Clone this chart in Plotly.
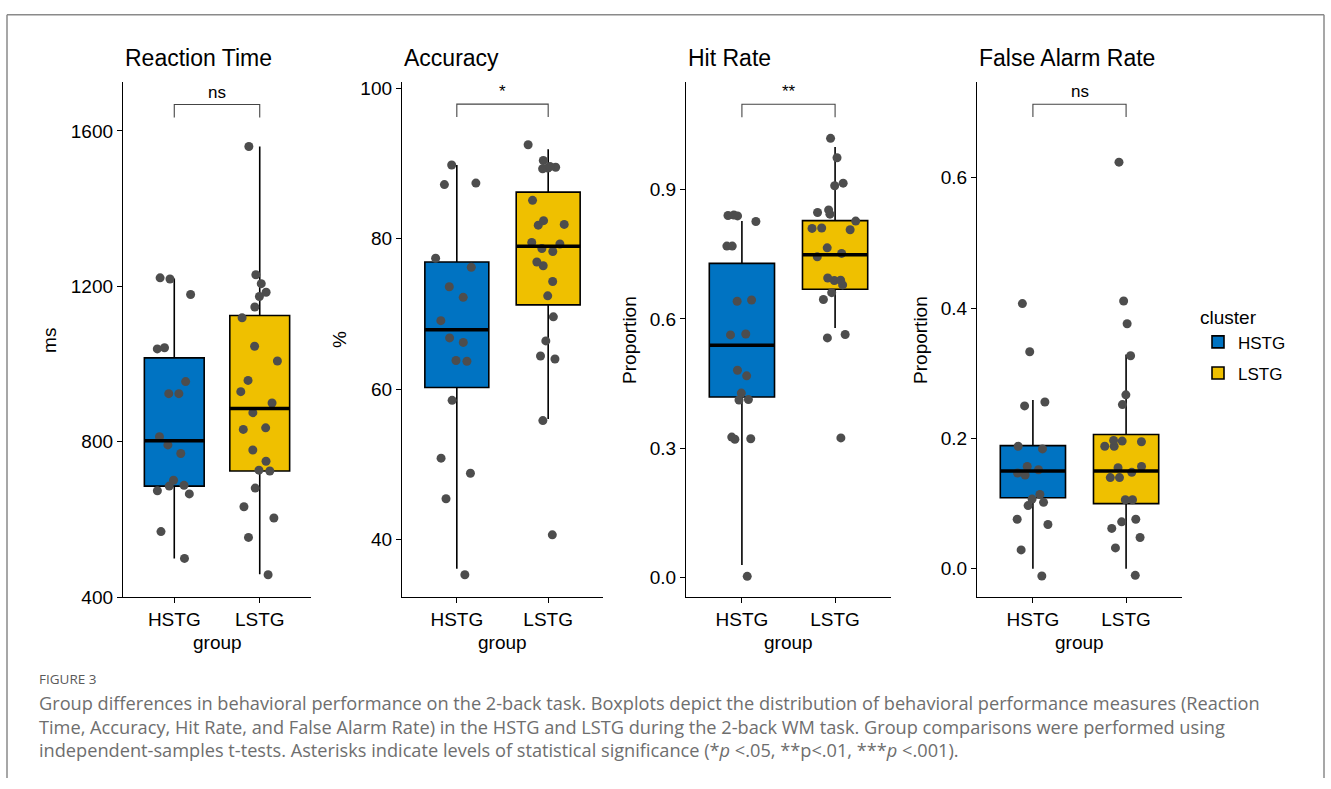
import plotly.graph_objects as go

W, H = 1331, 789
groups = ["HSTG", "LSTG"]
group_colors = ["#0073C2", "#EFC000"]

# ---------------- data ----------------
titles = ["Reaction Time", "Accuracy", "Hit Rate", "False Alarm Rate"]
y_labels = ["ms", "%", "Proportion", "Proportion"]

rt_hstg = [1219, 1222, 1179, 1039, 1042, 955, 924, 924, 813, 792, 770, 701, 688, 686, 674, 666, 569, 500]
rt_lstg = [1560, 1230, 1207, 1185, 1174, 1147, 1119, 1046, 1008, 958, 929, 900, 875, 832, 836, 779,
           750, 725, 727, 681, 633, 604, 554, 458]
acc_hstg = [89.8, 87.2, 87.4, 77.4, 76.2, 73.6, 72.2, 69.1, 66.8, 66.2, 63.8, 63.7, 58.5, 50.8, 48.8, 45.4, 35.3]
acc_lstg = [92.5, 90.4, 89.3, 89.5, 89.6, 89.4, 85.1, 82.4, 81.9, 81.8, 79.5, 79.3, 78.7, 78.3, 76.9, 76.4,
            74.3, 72.4, 69.6, 66.4, 64.0, 64.4, 55.8, 40.6]
hit_hstg = [0.840, 0.841, 0.839, 0.826, 0.769, 0.769, 0.644, 0.641, 0.563, 0.565, 0.481, 0.468, 0.428,
            0.412, 0.413, 0.326, 0.321, 0.322, 0.003]
hit_lstg = [1.019, 0.974, 0.909, 0.915, 0.847, 0.853, 0.843, 0.827, 0.807, 0.811, 0.810, 0.765, 0.752,
            0.744, 0.695, 0.679, 0.689, 0.690, 0.661, 0.645, 0.564, 0.556, 0.324]
fa_hstg = [0.407, 0.333, 0.256, 0.250, 0.188, 0.184, 0.157, 0.152, 0.147, 0.144, 0.114, 0.107, 0.102,
           0.097, 0.076, 0.068, 0.029, -0.011]
fa_lstg = [0.624, 0.411, 0.376, 0.327, 0.267, 0.252, 0.197, 0.195, 0.196, 0.188, 0.188, 0.157, 0.155,
           0.148, 0.140, 0.140, 0.106, 0.106, 0.076, 0.072, 0.062, 0.048, 0.032, -0.010]

points = [[rt_hstg, rt_lstg], [acc_hstg, acc_lstg], [hit_hstg, hit_lstg], [fa_hstg, fa_lstg]]

# box statistics per panel, [HSTG, LSTG]
q1 = [[686, 725], [60.2, 71.2], [0.419, 0.669], [0.109, 0.100]]
median = [[803, 886], [67.9, 79.0], [0.539, 0.749], [0.150, 0.150]]
q3 = [[1016, 1125], [76.9, 86.2], [0.729, 0.828], [0.189, 0.206]]
lower = [[500, 459], [36.1, 56.0], [0.029, 0.579], [0.0, 0.0]]
upper = [[1220, 1560], [89.8, 91.9], [0.827, 0.999], [0.259, 0.329]]

sig_labels = ["ns", "*", "**", "ns"]
sig_y = [1668, 97.9, 1.098, 0.713]

y_ticks = [[400, 800, 1200, 1600], [40, 60, 80, 100], [0.0, 0.3, 0.6, 0.9], [0.0, 0.2, 0.4, 0.6]]
y_ticktext = [["400", "800", "1200", "1600"], ["40", "60", "80", "100"],
              ["0.0", "0.3", "0.6", "0.9"], ["0.0", "0.2", "0.4", "0.6"]]

# ---------------- layout geometry ----------------
y_ranges = [[400, 1727], [32.3, 100.9], [-0.0456, 1.1506], [-0.0437, 0.7477]]
panel_px = [(123, 311), (402, 603), (686, 891), (977, 1182)]
ytitle_px = [50, 340, 630, 921]
plot_top, plot_bottom = 80, 605
box_w = 0.7
tip_frac = 0.025


def py(y):
    """pixel row (from top) -> paper fraction"""
    return 1 - y / H


FONT = "Liberation Sans, Arial, sans-serif"

fig = go.Figure()
layout = dict(
    width=W, height=H, margin=dict(l=0, r=0, t=0, b=0),
    paper_bgcolor="white", plot_bgcolor="white",
    font=dict(family=FONT, color="black"),
    boxmode="overlay",
    showlegend=True,
    legend=dict(x=1198 / W, y=py(302), xanchor="left", yanchor="top",
                title=dict(text="cluster", font=dict(size=19)),
                font=dict(size=17), bgcolor="rgba(0,0,0,0)", tracegroupgap=6),
)
shapes = []
annotations = []

for i in range(4):
    sfx = "" if i == 0 else str(i + 1)
    xa, ya = "x" + sfx, "y" + sfx
    x0p, x1p = panel_px[i]
    layout["xaxis" + sfx] = dict(
        domain=[x0p / W, x1p / W], anchor=ya, type="category",
        categoryorder="array", categoryarray=groups, range=[-0.6, 1.6],
        showline=True, linecolor="black", linewidth=1.3, ticks="outside",
        ticklen=5, tickwidth=1.3, tickcolor="black", showgrid=False, zeroline=False,
        tickfont=dict(size=19, color="black"), fixedrange=True,
    )
    layout["yaxis" + sfx] = dict(
        domain=[py(plot_bottom), py(plot_top)], anchor=xa,
        range=y_ranges[i], tickvals=y_ticks[i], ticktext=y_ticktext[i],
        showline=True, linecolor="black", linewidth=1.3, ticks="outside",
        ticklen=5, tickwidth=1.3, tickcolor="black", showgrid=False, zeroline=False,
        tickfont=dict(size=19, color="black"), fixedrange=True,
    )
    for g in range(2):
        fig.add_trace(go.Box(
            x=[groups[g]], y=[points[i][g]],
            q1=[q1[i][g]], median=[median[i][g]], q3=[q3[i][g]],
            lowerfence=[lower[i][g]], upperfence=[upper[i][g]],
            boxpoints="all", jitter=0.75, pointpos=0, width=box_w, whiskerwidth=0,
            fillcolor=group_colors[g], line=dict(color="black", width=1.6),
            marker=dict(color="#4d4d4d", size=9, line=dict(width=0)),
            name=groups[g], legendgroup=groups[g], showlegend=(i == 0),
            xaxis=xa, yaxis=ya, hoverinfo="skip",
        ))
        # thick median line
        shapes.append(dict(type="line", xref=xa, yref=ya,
                           x0=g - box_w / 2, x1=g + box_w / 2,
                           y0=median[i][g], y1=median[i][g],
                           line=dict(color="black", width=3.5), layer="above"))
    # significance bracket
    span = y_ranges[i][1] - y_ranges[i][0]
    yb = sig_y[i]
    yt = yb - tip_frac * span
    shapes.append(dict(type="path", xref=xa, yref=ya,
                       path=f"M 0 {yt} L 0 {yb} L 1 {yb} L 1 {yt}",
                       line=dict(color="#444444", width=1.1)))
    annotations.append(dict(xref=xa, yref=ya, x=0.5, y=yb, text=sig_labels[i],
                            showarrow=False, yanchor="bottom", yshift=1,
                            font=dict(size=17, color="black")))
    # panel title
    annotations.append(dict(xref="paper", yref="paper", x=x0p / W, y=py(56),
                            text=titles[i], showarrow=False, xanchor="left", yanchor="middle",
                            font=dict(size=23, color="black")))
    # y-axis title
    annotations.append(dict(xref="paper", yref="paper", x=ytitle_px[i] / W, y=py(343),
                            text=y_labels[i], showarrow=False, textangle=-90,
                            xanchor="center", yanchor="middle",
                            font=dict(size=19, color="black")))
    # x-axis title
    annotations.append(dict(xref="paper", yref="paper", x=(x0p + x1p) / 2 / W, y=py(651),
                            text="group", showarrow=False, xanchor="center", yanchor="middle",
                            font=dict(size=19, color="black")))

# page frame
frame = "#8a8a8a"
shapes.append(dict(type="line", xref="paper", yref="paper", x0=7 / W, x1=1324 / W,
                   y0=py(12), y1=py(12), line=dict(color=frame, width=1.5)))
shapes.append(dict(type="line", xref="paper", yref="paper", x0=7 / W, x1=7 / W,
                   y0=0, y1=py(12), line=dict(color=frame, width=1.5)))
shapes.append(dict(type="line", xref="paper", yref="paper", x0=1324 / W, x1=1324 / W,
                   y0=0, y1=py(12), line=dict(color=frame, width=1.5)))

# caption
CAP = "Open Sans, Lato, sans-serif"
annotations.append(dict(xref="paper", yref="paper", x=37 / W, y=py(688), text="FIGURE 3",
                        showarrow=False, xanchor="left", yanchor="middle",
                        font=dict(family=CAP, size=13.5, color="#5a5a5a")))
caption_lines = [
    "Group differences in behavioral performance on the 2-back task. Boxplots depict the distribution of behavioral performance measures (Reaction",
    "Time, Accuracy, Hit Rate, and False Alarm Rate) in the HSTG and LSTG during the 2-back WM task. Group comparisons were performed using",
    "independent-samples t-tests. Asterisks indicate levels of statistical significance (*<i>p</i> &lt;.05, **p&lt;.01, ***<i>p</i> &lt;.001).",
]
for k, line in enumerate(caption_lines):
    annotations.append(dict(xref="paper", yref="paper", x=37 / W, y=py(713 + 24 * k),
                            text=line, showarrow=False, xanchor="left", yanchor="middle",
                            font=dict(family=CAP, size=18.2, color="#6e6e6e")))

layout["shapes"] = shapes
layout["annotations"] = annotations
fig.update_layout(**layout)

pin_script = (
    "var gd=document.getElementById('{plot_id}');"
    "gd.style.position='fixed';gd.style.top='0px';gd.style.left='0px';"
    "document.body.style.margin='0';document.body.style.padding='0';"
    "document.body.style.overflow='hidden';document.documentElement.style.overflow='hidden';"
)
fig.write_html("out.html", config={"displayModeBar": False}, post_script=pin_script)
